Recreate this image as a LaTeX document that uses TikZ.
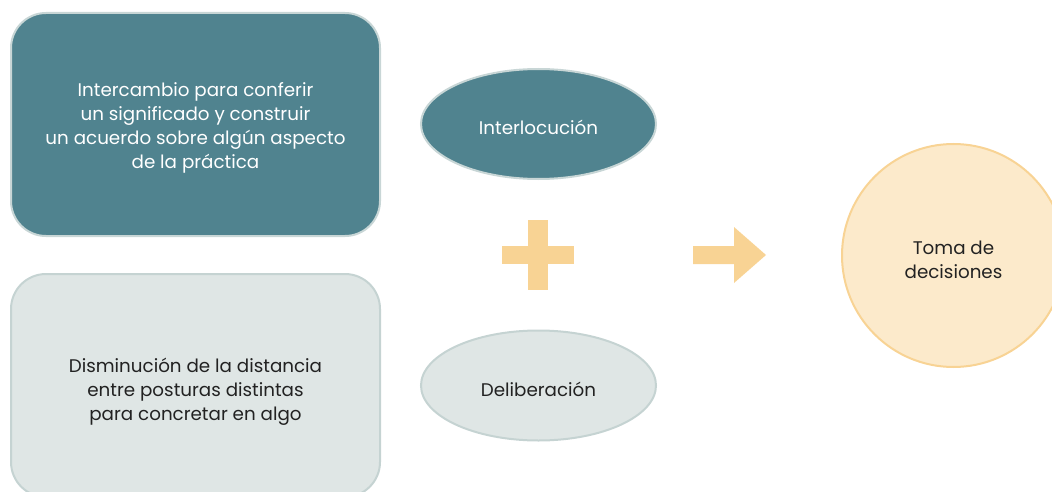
\documentclass[tikz,border=0pt]{standalone}
\usepackage{fontspec}
\setmainfont{Poppins}
\usetikzlibrary{shapes.geometric}
\definecolor{teal1}{HTML}{50838F}
\definecolor{tealline}{HTML}{C8D6D6}
\definecolor{greyfill}{HTML}{DFE6E5}
\definecolor{greyline}{HTML}{C5D3D2}
\definecolor{sand}{HTML}{F8D394}
\definecolor{sandfill}{HTML}{FCEACB}
\definecolor{ink}{HTML}{222222}
\newcommand{\tallline}[1][21.5pt]{\rule{0pt}{#1}}
\begin{document}
\begin{tikzpicture}[x=1pt,y=-1pt,
    txt/.style={font=\fontsize{18.3}{24}\selectfont, align=center, inner sep=0pt},
    dark box/.style={txt, draw=tealline, fill=teal1, text=white, line width=2pt, rounded corners=35pt, minimum width=369pt, minimum height=223pt},
    light box/.style={txt, draw=greyline, fill=greyfill, text=ink, line width=2pt, rounded corners=35pt, minimum width=369pt, minimum height=223pt},
    dark oval/.style={txt, ellipse, draw=tealline, fill=teal1, text=white, line width=2pt, minimum width=235pt, minimum height=110pt},
    light oval/.style={txt, ellipse, draw=greyline, fill=greyfill, text=ink, line width=2pt, minimum width=235pt, minimum height=110pt}]
        \useasboundingbox (0,0) rectangle (1052,492);

        \node[dark box] (inter-def) at (195.5,124.5) {\tallline Intercambio para conferir\\ un significado y construir\\ un acuerdo sobre algún aspecto\\ de la práctica};
        \node[light box] (delib-def) at (195.5,385.5) {\tallline[27.5pt]Disminución de la distancia\\ entre posturas distintas\\ para concretar en algo};
        \node[dark oval] (inter) at (538.5,124) {\tallline Interlocución};
        \node[light oval] (delib) at (538.5,385.5) {\tallline Deliberación};
        \node[txt, circle, draw=sand, fill=sandfill, text=ink, line width=2pt, minimum size=223pt] (toma) at (953.5,255.5) {\tallline Toma de\\ decisiones};

        % signo mas y flecha
        \fill[sand] (502,246) rectangle (574,264); \fill[sand] (528,220) rectangle (548,290);
        \fill[sand] (693,246) -- (734,246) -- (734,227) -- (766,255) -- (734,283) -- (734,264) -- (693,264) -- cycle;
\end{tikzpicture}
\end{document}
